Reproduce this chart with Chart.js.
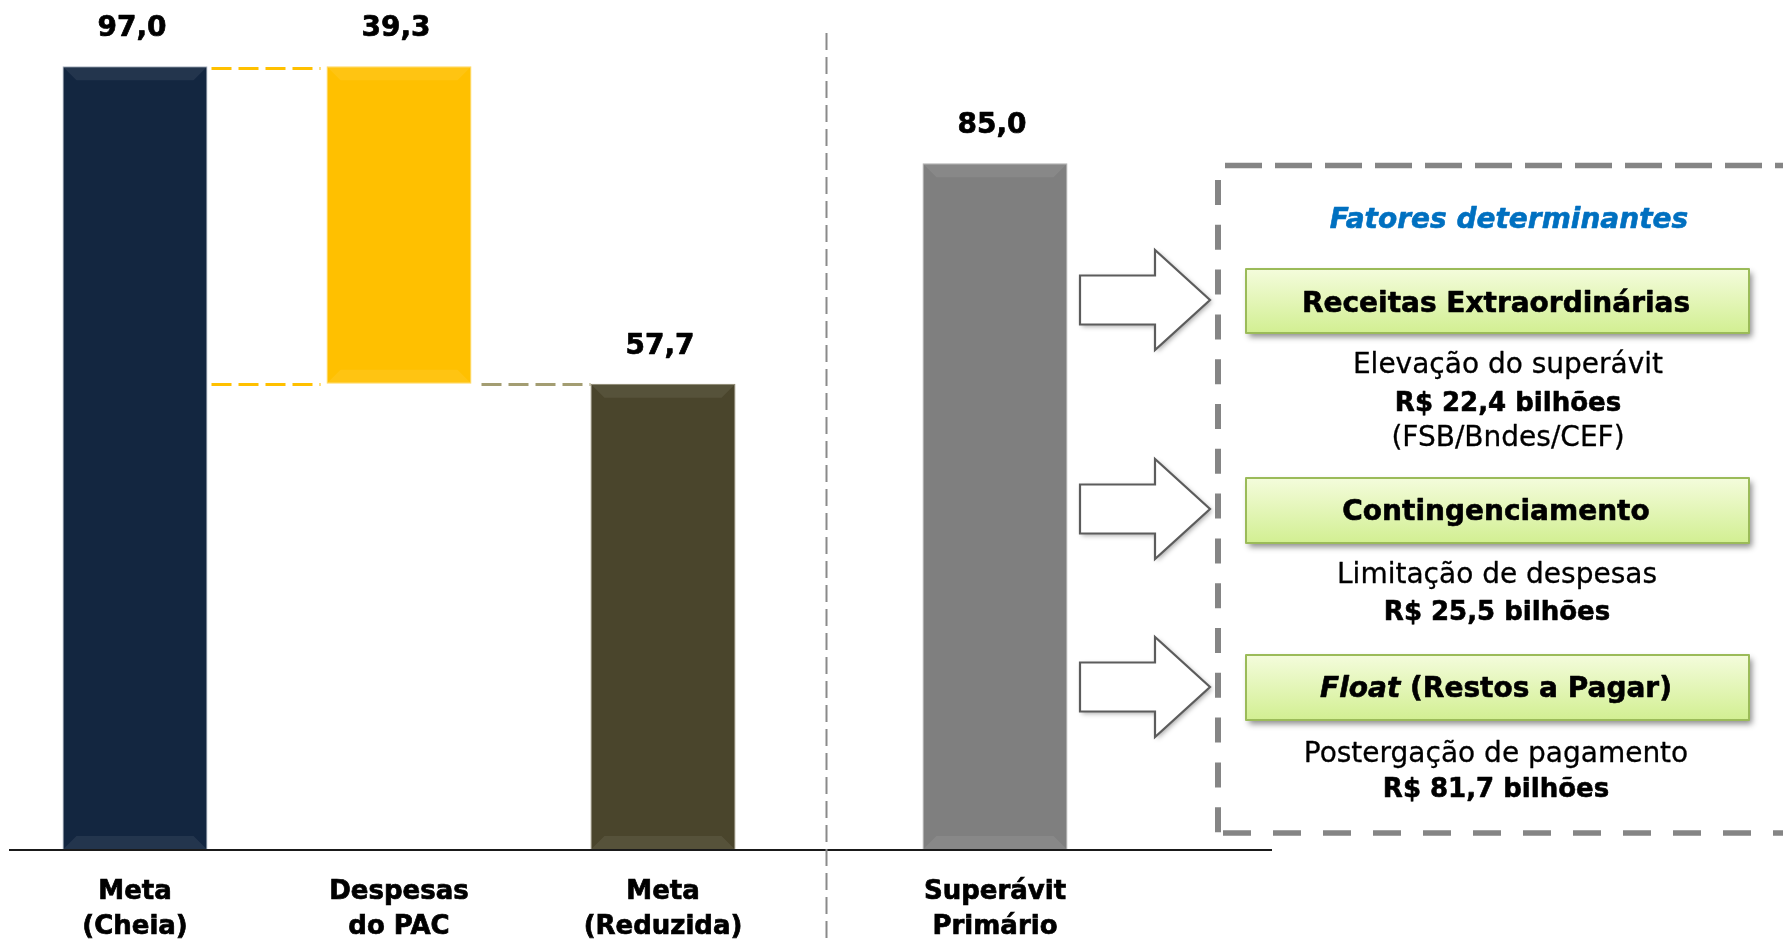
<!DOCTYPE html>
<html lang="pt-BR">
<head>
<meta charset="utf-8">
<title>Meta e superávit primário</title>
<script src="https://cdn.jsdelivr.net/npm/chart.js@4.4.1/dist/chart.umd.min.js"></script>
<style>
  html, body { margin: 0; padding: 0; background: #fff; }
  #wrap { position: relative; width: 1783px; height: 940px; overflow: hidden; }
  .layer { position: absolute; left: 0; top: 0; width: 1783px; height: 940px; }
</style>
</head>
<body>
<div id="wrap">
  <div class="layer"><canvas id="metaChart"></canvas></div>
  <div class="layer"><canvas id="resultChart"></canvas></div>
</div>
<script>
// ---- data ----
const metaCategories = [['Meta', '(Cheia)'], ['Despesas', 'do PAC'], ['Meta', '(Reduzida)']];
const metaValues = [97.0, 39.3, 57.7];           // meta cheia, despesas do PAC, meta reduzida
const resultCategories = [['Superávit', 'Primário']];
const resultValues = [85.0];
const factorsTitle = 'Fatores determinantes';
const factorNames = [
  [{ text: 'Receitas Extraordinárias' }],
  [{ text: 'Contingenciamento' }],
  [{ text: 'Float', italic: true }, { text: ' (Restos a Pagar)' }]
];
const factorNotes = [
  ['Elevação do superávit', 'R$ 22,4 bilhões', '(FSB/Bndes/CEF)'],
  ['Limitação de despesas', 'R$ 25,5 bilhões'],
  ['Postergação de pagamento', 'R$ 81,7 bilhões']
];

// ---- styling ----
const FONT = '"DejaVu Sans", Verdana, sans-serif';
Chart.defaults.font.family = FONT;
const fmt = v => v.toFixed(1).replace('.', ',');

// waterfall: full goal, PAC deduction hanging from the top, reduced goal
const metaRanges = [
  [0, metaValues[0]],
  [metaValues[0] - metaValues[1], metaValues[0]],
  [0, metaValues[2]]
];

// filled text with a hairline outline in the same colour, for a heavier look
function heavyText(ctx, text, x, y, w) {
  ctx.fillText(text, x, y);
  ctx.lineWidth = w;
  ctx.strokeStyle = ctx.fillStyle;
  ctx.lineJoin = 'round';
  ctx.strokeText(text, x, y);
}

// value printed above each bar
const valueLabels = {
  id: 'valueLabels',
  afterDatasetsDraw(chart, args, opts) {
    const ctx = chart.ctx;
    ctx.save();
    ctx.font = `bold ${opts.size}px ${FONT}`;
    ctx.fillStyle = '#000';
    ctx.textAlign = 'center';
    ctx.textBaseline = 'alphabetic';
    chart.getDatasetMeta(0).data.forEach((bar, i) => {
      const top = Math.min(bar.y, bar.base);
      heavyText(ctx, fmt(opts.values[i]), bar.x - 3, top - opts.gap, 0.7);
    });
    ctx.restore();
  }
};

// soft bevel bands at the top and bottom of each bar
const bevel = {
  id: 'bevel',
  afterDatasetsDraw(chart) {
    const ctx = chart.ctx;
    chart.getDatasetMeta(0).data.forEach(bar => {
      const l = bar.x - bar.width / 2, r = bar.x + bar.width / 2;
      const t = Math.min(bar.y, bar.base), b = Math.max(bar.y, bar.base);
      const d = 14;
      ctx.save();
      ctx.fillStyle = 'rgba(255,255,255,0.07)';
      ctx.beginPath();
      ctx.moveTo(l + 1, t + 1); ctx.lineTo(r - 1, t + 1); ctx.lineTo(r - d, t + d); ctx.lineTo(l + d, t + d);
      ctx.closePath(); ctx.fill();
      ctx.beginPath();
      ctx.moveTo(l + 1, b - 1); ctx.lineTo(r - 1, b - 1); ctx.lineTo(r - d, b - d); ctx.lineTo(l + d, b - d);
      ctx.closePath(); ctx.fill();
      ctx.restore();
    });
  }
};

// dashed connectors between the waterfall steps
const connectors = {
  id: 'connectors',
  beforeDatasetsDraw(chart) {
    const ctx = chart.ctx;
    const ys = chart.scales.y;
    const bars = chart.getDatasetMeta(0).data;
    const right = i => bars[i].x + bars[i].width / 2;
    const left = i => bars[i].x - bars[i].width / 2;
    const seg = (x1, x2, v, dy, color) => {
      const y = Math.round(ys.getPixelForValue(v)) + dy + 0.5;
      ctx.save();
      ctx.strokeStyle = color;
      ctx.lineWidth = 3;
      ctx.setLineDash([20, 7]);
      ctx.beginPath(); ctx.moveTo(x1, y); ctx.lineTo(x2, y); ctx.stroke();
      ctx.restore();
    };
    seg(right(0) + 4, left(1) - 6, metaValues[0], 2, '#ffc000');
    seg(right(0) + 4, left(1) - 6, metaValues[0] - metaValues[1], 0, '#ffc000');
    seg(right(1) + 10, left(2), metaValues[2], 0, '#a39d72');
  }
};

// baseline, separator, and the side panel with the explaining factors
const sidePanel = {
  id: 'sidePanel',
  afterDraw(chart) {
    const ctx = chart.ctx;
    const base = chart.scales.y.getPixelForValue(0);
    ctx.save();

    // category baseline
    ctx.strokeStyle = '#1a1a1a';
    ctx.lineWidth = 2;
    ctx.beginPath(); ctx.moveTo(9, base); ctx.lineTo(1272, base); ctx.stroke();

    // separator between the goal and the result
    ctx.strokeStyle = '#8a8a8a';
    ctx.lineWidth = 2;
    ctx.setLineDash([17, 7]);
    ctx.beginPath(); ctx.moveTo(826.5, 33); ctx.lineTo(826.5, 940); ctx.stroke();

    // dashed frame (open on the right)
    ctx.strokeStyle = '#858585';
    ctx.lineWidth = 5.5;
    ctx.setLineDash([37, 13]);
    ctx.beginPath(); ctx.moveTo(1225, 165.5); ctx.lineTo(1800, 165.5); ctx.stroke();
    ctx.lineWidth = 6;
    ctx.setLineDash([25, 19.8]);
    ctx.beginPath(); ctx.moveTo(1218, 180); ctx.lineTo(1218, 836); ctx.stroke();
    ctx.lineWidth = 5.5;
    ctx.setLineDash([28, 22]);
    ctx.beginPath(); ctx.moveTo(1223, 833); ctx.lineTo(1800, 833); ctx.stroke();
    ctx.setLineDash([]);

    // block arrows pointing to the factors
    const arrowCenters = [300, 509, 687];
    arrowCenters.forEach(cy => {
      const x0 = 1080, xn = 1155, xt = 1210, hs = 24.5, hh = 50;
      const path = () => {
        ctx.beginPath();
        ctx.moveTo(x0, cy - hs); ctx.lineTo(xn, cy - hs); ctx.lineTo(xn, cy - hh);
        ctx.lineTo(xt, cy); ctx.lineTo(xn, cy + hh); ctx.lineTo(xn, cy + hs);
        ctx.lineTo(x0, cy + hs); ctx.closePath();
      };
      ctx.save();
      ctx.shadowColor = 'rgba(0,0,0,0.35)';
      ctx.shadowBlur = 5; ctx.shadowOffsetX = 2; ctx.shadowOffsetY = 2;
      path(); ctx.fillStyle = '#fff'; ctx.fill();
      ctx.restore();
      path();
      ctx.strokeStyle = '#5c5c5c'; ctx.lineWidth = 2.2; ctx.lineJoin = 'miter';
      ctx.stroke();
    });

    // panel title
    ctx.font = `italic bold 28px ${FONT}`;
    ctx.fillStyle = '#0070c0';
    ctx.textAlign = 'center';
    ctx.textBaseline = 'alphabetic';
    heavyText(ctx, factorsTitle, 1509, 228, 0.6);

    // factor boxes
    const boxes = [
      { top: 269, bottom: 333, baseline: 312 },
      { top: 478, bottom: 543, baseline: 520 },
      { top: 655, bottom: 720, baseline: 697 }
    ];
    const bx0 = 1246, bx1 = 1749;
    boxes.forEach((b, i) => {
      const g = ctx.createLinearGradient(0, b.top, 0, b.bottom);
      g.addColorStop(0, '#f4fcdc');
      g.addColorStop(1, '#d2ef92');
      ctx.save();
      ctx.shadowColor = 'rgba(0,0,0,0.45)';
      ctx.shadowBlur = 6; ctx.shadowOffsetX = 3; ctx.shadowOffsetY = 4;
      ctx.fillStyle = g;
      ctx.fillRect(bx0, b.top, bx1 - bx0, b.bottom - b.top);
      ctx.restore();
      ctx.strokeStyle = '#9bbb59';
      ctx.lineWidth = 2;
      ctx.strokeRect(bx0, b.top, bx1 - bx0, b.bottom - b.top);

      // title, possibly mixed italic/upright
      const parts = factorNames[i].map(p => ({
        text: p.text,
        font: `${p.italic ? 'italic ' : ''}bold 28px ${FONT}`
      }));
      let total = 0;
      parts.forEach(p => { ctx.font = p.font; p.w = ctx.measureText(p.text).width; total += p.w; });
      let x = 1496 - total / 2;
      ctx.textAlign = 'left';
      ctx.fillStyle = '#000';
      parts.forEach(p => { ctx.font = p.font; heavyText(ctx, p.text, x, b.baseline, 0.6); x += p.w; });
    });

    // notes under each box
    const noteBlocks = [
      { cx: 1508, baselines: [373, 411, 446] },
      { cx: 1497, baselines: [583, 620] },
      { cx: 1496, baselines: [762, 797] }
    ];
    ctx.textAlign = 'center';
    ctx.fillStyle = '#000';
    noteBlocks.forEach((blk, i) => {
      factorNotes[i].forEach((line, j) => {
        const strong = line.startsWith('R$');
        ctx.font = strong ? `bold 26px ${FONT}` : `28px ${FONT}`;
        heavyText(ctx, line, blk.cx, blk.baselines[j], strong ? 0.6 : 0.3);
      });
    });

    ctx.restore();
  }
};

function barConfig(labels, data, colors, borders, fraction, padLeft, padRight, values, extra) {
  return {
    type: 'bar',
    data: {
      labels: labels,
      datasets: [{
        data: data,
        backgroundColor: colors,
        borderColor: borders,
        borderWidth: 1,
        borderSkipped: false,
        barPercentage: 1,
        categoryPercentage: fraction
      }]
    },
    options: {
      responsive: true,
      maintainAspectRatio: false,
      animation: false,
      events: [],
      layout: { padding: { left: padLeft, right: padRight, top: 42, bottom: 0 } },
      plugins: {
        legend: { display: false },
        tooltip: { enabled: false },
        title: { display: false },
        valueLabels: { values: values, size: 28, gap: 30 }
      },
      scales: {
        x: {
          grid: { display: false, drawTicks: false },
          border: { display: false },
          ticks: {
            color: '#000',
            font: { size: 26, weight: 'bold', lineHeight: '35px' },
            textStrokeColor: '#000',
            textStrokeWidth: 0.7,
            padding: 25,
            maxRotation: 0,
            autoSkip: false
          },
          afterFit(scale) { scale.height = 90; }
        },
        y: {
          display: false,
          min: 0,
          max: 100
        }
      }
    },
    plugins: [connectors, bevel, valueLabels].filter(p => extra.includes(p.id)).concat(extra.includes('sidePanel') ? [sidePanel] : [])
  };
}

new Chart(document.getElementById('metaChart'), barConfig(
  metaCategories, metaRanges,
  ['#132640', '#ffc000', '#4a452c'],
  ['#aab4c2', '#ffd966', '#8c876c'],
  145 / 264, 3, 988, metaValues,
  ['connectors', 'bevel', 'valueLabels']
));

new Chart(document.getElementById('resultChart'), barConfig(
  resultCategories, resultValues,
  ['#7f7f7f'],
  ['#b0b0b0'],
  145 / 336, 827, 620, resultValues,
  ['bevel', 'valueLabels', 'sidePanel']
));
</script>
</body>
</html>
